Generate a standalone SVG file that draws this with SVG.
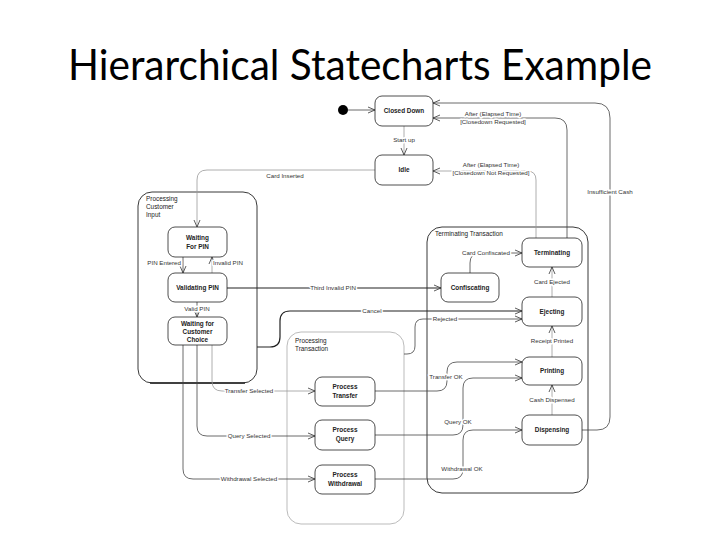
<svg xmlns="http://www.w3.org/2000/svg" width="720" height="540" viewBox="0 0 720 540">
<style>
.title{font-family:Lato,"Liberation Sans",sans-serif;font-size:42px;fill:#000}
.st{fill:#fff;stroke:#222;stroke-width:0.8}
.ct{fill:none;stroke:#222;stroke-width:0.9}
.ctl{fill:none;stroke:#aaa;stroke-width:0.8}
.sn{font-family:"Liberation Sans",Arial,sans-serif;font-size:6.4px;font-weight:bold;fill:#222;text-anchor:middle}
.cn{font-family:"Liberation Sans",Arial,sans-serif;font-size:6.4px;fill:#222}
.el{font-family:"Liberation Sans",Arial,sans-serif;font-size:6.2px;fill:#333;text-anchor:middle;paint-order:stroke;stroke:#fff;stroke-width:3px;stroke-linejoin:round}
.e{fill:none;stroke:#444;stroke-width:0.8;marker-end:url(#arr)}
.el2{fill:none;stroke:#999;stroke-width:0.8;marker-end:url(#arr)}
.eb{fill:none;stroke:#222;stroke-width:1.2;marker-end:url(#arr)}
</style>
<defs>
<marker id="arr" viewBox="0 0 8 8" refX="7.5" refY="4" markerWidth="8" markerHeight="8" markerUnits="userSpaceOnUse" orient="auto">
<path d="M0.5,1 L7.5,4 L0.5,7" fill="none" stroke="#333" stroke-width="0.8"/>
</marker>
</defs>
<rect width="720" height="540" fill="#fff"/>
<text class="title" x="360" y="80" text-anchor="middle" textLength="584" lengthAdjust="spacingAndGlyphs">Hierarchical Statecharts Example</text>

<g id="processing-customer-input">
<rect class="ct" x="138" y="192" width="119" height="191" rx="14"/>
<line x1="150" y1="383" x2="245" y2="383" stroke="#222" stroke-width="1.4"/>
<text class="cn" x="146" y="201">Processing</text>
<text class="cn" x="146" y="209">Customer</text>
<text class="cn" x="146" y="217">Input</text>
</g>
<g id="processing-transaction">
<rect class="ctl" x="287" y="332" width="117" height="192" rx="14"/>
<text class="cn" x="295" y="343">Processing</text>
<text class="cn" x="295" y="351">Transaction</text>
</g>
<g id="terminating-transaction">
<rect class="ct" x="427" y="227" width="161" height="266" rx="15"/>
<text class="cn" x="435" y="236">Terminating Transaction</text>
</g>

<g id="connectors">
<path class="e" d="M348,110 H375"/>
<path class="el2" d="M404,126 V155"/>
<text class="el" x="404" y="142">Start up</text>
<path class="e" d="M567,238 V130 Q567,118 555,118 H433" stroke-width="1.1"/>
<text class="el" x="493" y="116">After (Elapsed Time)</text>
<text class="el" x="493" y="124">[Closedown Requested]</text>
<path class="e" d="M582,430 H597 Q610,430 610,417 V118 Q610,103 595,103 H433" stroke="#666"/>
<text class="el" x="610" y="194">Insufficient Cash</text>
<path class="el2" d="M536,238 V180 Q536,171 527,171 H433"/>
<text class="el" x="491" y="167">After (Elapsed Time)</text>
<text class="el" x="491" y="175">[Closedown Not Requested]</text>
<path class="el2" d="M375,170 H207 Q197,170 197,180 V227" stroke="#777"/>
<text class="el" x="285" y="178">Card Inserted</text>
<path class="e" d="M183,257 V273"/>
<text class="el" x="181" y="265" text-anchor="end" style="text-anchor:end">PIN Entered</text>
<path class="el2" d="M212,273 V257"/>
<text class="el" x="213" y="265" style="text-anchor:start">Invalid PIN</text>
<path class="e" d="M197,302 V317"/>
<text class="el" x="197" y="311">Valid PIN</text>
<path class="eb" d="M227,288 H441"/>
<text class="el" x="333" y="290">Third Invalid PIN</text>
<path class="e" d="M470,273 V263 Q470,253 480,253 H522"/>
<text class="el" x="486" y="255">Card Confiscated</text>
<path class="el2" d="M552,297 V267"/>
<text class="el" x="552" y="284">Card Ejected</text>
<path class="el2" d="M552,357 V326"/>
<text class="el" x="552" y="343">Receipt Printed</text>
<path class="el2" d="M552,415 V385"/>
<text class="el" x="552" y="402">Cash Dispensed</text>
<path class="eb" d="M257,347 H270 Q280,347 280,337 V321 Q280,311 290,311 H522"/>
<text class="el" x="372" y="313">Cancel</text>
<path class="e" d="M404,354 H407 Q415,354 415,346 V327 Q415,319 423,319 H522"/>
<text class="el" x="445" y="321">Rejected</text>
<path class="el2" d="M212,345 V381 Q212,391 222,391 H315" stroke="#888"/>
<text class="el" x="249" y="393">Transfer Selected</text>
<path class="e" d="M197,345 V426 Q197,436 207,436 H315" stroke-width="1"/>
<text class="el" x="249" y="438">Query Selected</text>
<path class="e" d="M183,345 V469 Q183,479 193,479 H315" stroke-width="1.1" stroke="#222"/>
<text class="el" x="249" y="481">Withdrawal Selected</text>
<path class="e" d="M375,391 H437 Q447,391 447,381 V372 Q447,362 457,362 H522"/>
<text class="el" x="446" y="379">Transfer OK</text>
<path class="e" d="M375,435 H453 Q463,435 463,425 V388 Q463,378 473,378 H522"/>
<text class="el" x="458" y="424">Query OK</text>
<path class="e" d="M375,479 H453 Q463,479 463,469 V440 Q463,430 473,430 H522" stroke-width="1.1" stroke="#222"/>
<text class="el" x="462" y="471">Withdrawal OK</text>
</g>

<g id="initial"><circle cx="343" cy="110" r="5" fill="#000"/></g>
<g id="closed-down"><rect class="st" x="375" y="96" width="58" height="30" rx="7"/><text class="sn" x="404" y="113">Closed Down</text></g>
<g id="idle"><rect class="st" x="375" y="155" width="58" height="30" rx="7"/><text class="sn" x="404" y="172">Idle</text></g>
<g id="waiting-for-pin"><rect class="st" x="168" y="227" width="59" height="30" rx="7"/><text class="sn" x="197.5" y="240">Waiting</text><text class="sn" x="197.5" y="249">For PIN</text></g>
<g id="validating-pin"><rect class="st" x="168" y="273" width="59" height="29" rx="7"/><text class="sn" x="197.5" y="290">Validating PIN</text></g>
<g id="waiting-for-customer-choice"><rect class="st" x="168" y="317" width="59" height="28" rx="7"/><text class="sn" x="197.5" y="326">Waiting for</text><text class="sn" x="197.5" y="334">Customer</text><text class="sn" x="197.5" y="342">Choice</text></g>
<g id="process-transfer"><rect class="st" x="315" y="377" width="60" height="29" rx="7"/><text class="sn" x="345" y="389">Process</text><text class="sn" x="345" y="398">Transfer</text></g>
<g id="process-query"><rect class="st" x="315" y="420" width="60" height="30" rx="7"/><text class="sn" x="345" y="432">Process</text><text class="sn" x="345" y="441">Query</text></g>
<g id="process-withdrawal"><rect class="st" x="315" y="465" width="60" height="29" rx="7"/><text class="sn" x="345" y="477">Process</text><text class="sn" x="345" y="486">Withdrawal</text></g>
<g id="terminating"><rect class="st" x="522" y="238" width="60" height="29" rx="7"/><text class="sn" x="552" y="255">Terminating</text></g>
<g id="confiscating"><rect class="st" x="441" y="273" width="58" height="29" rx="7"/><text class="sn" x="470" y="290">Confiscating</text></g>
<g id="ejecting"><rect class="st" x="522" y="297" width="60" height="29" rx="7"/><text class="sn" x="552" y="314">Ejecting</text></g>
<g id="printing"><rect class="st" x="522" y="357" width="60" height="28" rx="7"/><text class="sn" x="552" y="373">Printing</text></g>
<g id="dispensing"><rect class="st" x="522" y="415" width="60" height="30" rx="7"/><text class="sn" x="552" y="432">Dispensing</text></g>
</svg>
